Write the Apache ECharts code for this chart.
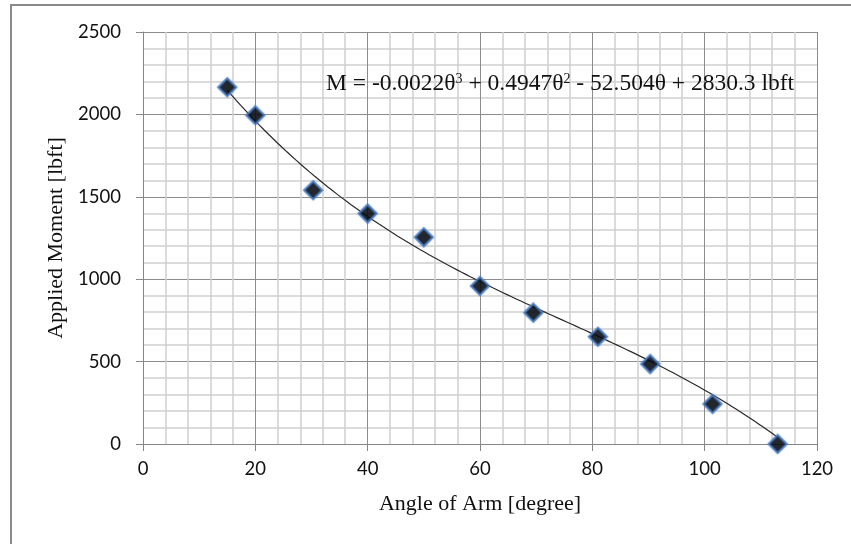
<!DOCTYPE html>
<html>
<head>
<meta charset="utf-8">
<script src="https://cdn.jsdelivr.net/npm/echarts@6/dist/echarts.min.js"></script>
<style>
  html, body { margin: 0; padding: 0; background: #ffffff; }
  #chart { width: 851px; height: 544px; }
</style>
</head>
<body>
<div id="chart"></div>
<script>
// Measured arm angle (degrees) and the moment applied at each angle (lbft)
const angles  = [15, 20, 30.3, 40, 50, 60, 69.5, 81, 90.3, 101.4, 113];
const moments = [2165, 1995, 1540, 1398, 1254, 959, 797, 651, 485, 243, 0];

// Cubic trendline coefficients, highest power first (as printed on the chart)
const trendCoef = [-0.0022, 0.4947, -52.504, 2830.3];

// Axis ranges and tick spacing
const xTicks = { min: 0, max: 120, interval: 20 };
const yTicks = { min: 0, max: 2500, interval: 500 };

const equationText = 'M = -0.0022θ{sup|3} + 0.4947θ{sup|2} - 52.504θ + 2830.3 lbft';

// Sample the fitted cubic across the measured range
function trendValue(t) {
  return ((trendCoef[0] * t + trendCoef[1]) * t + trendCoef[2]) * t + trendCoef[3];
}
const trendLine = [];
const tStart = angles[0], tEnd = angles[angles.length - 1];
for (let i = 0; i <= 120; i++) {
  const t = tStart + (tEnd - tStart) * i / 120;
  trendLine.push([t, trendValue(t)]);
}

const points = angles.map((a, i) => [a, moments[i]]);

const serif = '"Liberation Serif", "Times New Roman", serif';
const tickFont = { fontFamily: 'Lato', fontSize: 18.5, color: '#111', formatter: v => String(v) };
const titleFont = { fontFamily: serif, fontSize: 22, color: '#111' };

const chart = echarts.init(document.getElementById('chart'), null, { renderer: 'canvas' });
chart.setOption({
  backgroundColor: '#ffffff',
  animation: false,
  grid: { left: 143, right: 34, top: 32, bottom: 100, containLabel: false },
  xAxis: {
    type: 'value',
    min: xTicks.min, max: xTicks.max, interval: xTicks.interval,
    name: 'Angle of Arm [degree]',
    nameLocation: 'middle',
    nameGap: 49,
    nameTextStyle: titleFont,
    axisLine: { show: true, onZero: false, lineStyle: { color: '#868686', width: 1 } },
    axisTick: { show: true, inside: false, length: 7, lineStyle: { color: '#868686' } },
    axisLabel: Object.assign({ margin: 16 }, tickFont),
    splitLine: { show: true, lineStyle: { color: '#8c8c8c', width: 1 } },
    minorTick: { show: false, splitNumber: 5 },
    minorSplitLine: { show: true, lineStyle: { color: '#cfcfcf', width: 1.5 } }
  },
  yAxis: {
    type: 'value',
    min: yTicks.min, max: yTicks.max, interval: yTicks.interval,
    name: 'Applied Moment [lbft]',
    nameLocation: 'middle',
    nameGap: 73,
    nameRotate: 90,
    nameTextStyle: titleFont,
    axisLine: { show: true, onZero: false, lineStyle: { color: '#868686', width: 1 } },
    axisTick: { show: true, inside: false, length: 7, lineStyle: { color: '#868686' } },
    axisLabel: Object.assign({ margin: 22 }, tickFont),
    splitLine: { show: true, lineStyle: { color: '#8c8c8c', width: 1 } },
    minorTick: { show: false, splitNumber: 5 },
    minorSplitLine: { show: true, lineStyle: { color: '#cfcfcf', width: 1.5 } }
  },
  graphic: [
    {
      type: 'rect',
      shape: { x: 11, y: 5, width: 900, height: 600 },
      style: { fill: null, stroke: '#8a8a8a', lineWidth: 2 },
      silent: true
    },
    {
      type: 'text',
      left: 326, top: 72,
      z: 10,
      style: {
        text: equationText,
        fontFamily: serif,
        fontSize: 23.5,
        fill: '#111',
        rich: {
          sup: {
            fontFamily: serif,
            fontSize: 14,
            verticalAlign: 'top',
            padding: [0, 0, 10, 0],
            fill: '#111'
          }
        }
      }
    }
  ],
  series: [
    {
      name: 'trend',
      type: 'line',
      data: trendLine,
      showSymbol: false,
      smooth: false,
      lineStyle: { color: '#2a2a2a', width: 1.2 },
      z: 3,
      silent: true
    },
    {
      name: 'moment',
      type: 'scatter',
      data: points,
      symbol: 'diamond',
      symbolSize: 18,
      itemStyle: {
        color: '#000000',
        borderColor: 'rgba(74,126,200,0.85)',
        borderWidth: 2.2,
        shadowColor: 'rgba(74,126,200,0.6)',
        shadowBlur: 2
      },
      z: 4
    }
  ]
});
</script>
</body>
</html>
